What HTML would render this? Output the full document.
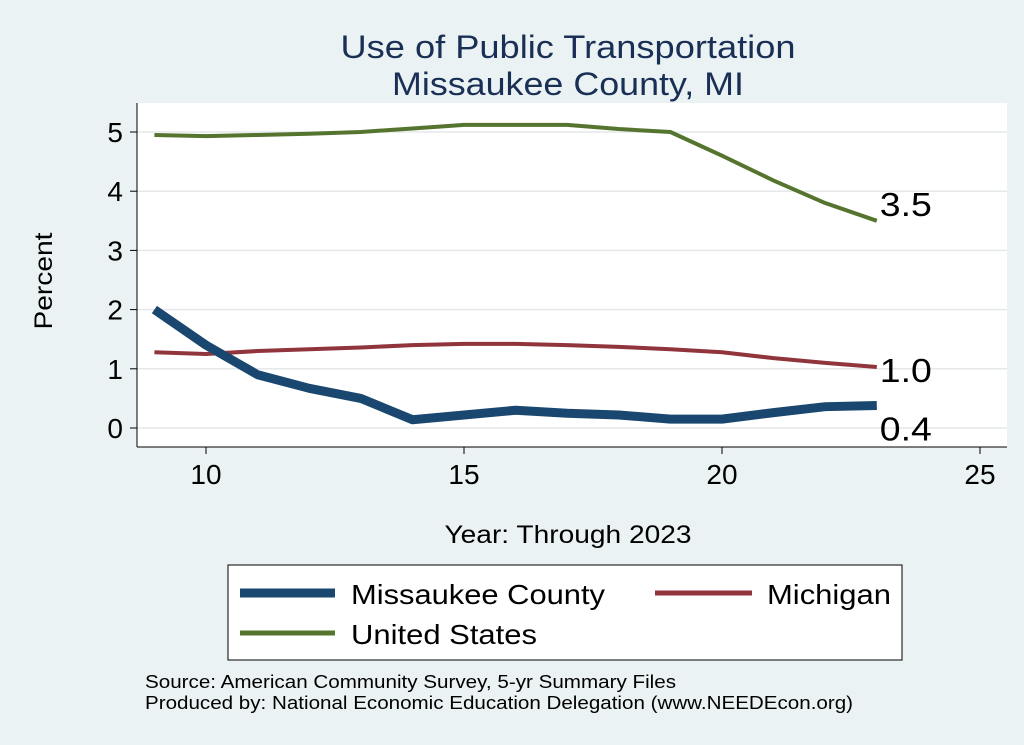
<!DOCTYPE html>
<html><head><meta charset="utf-8"><style>
body{margin:0;background:#eaf2f3;}
svg{display:block;font-family:"Liberation Sans",sans-serif;}
</style></head><body>
<svg id="chart" width="1024" height="745">
<rect x="0" y="0" width="1024" height="745" fill="#eaf2f3"/>
<text x="568" y="58" font-size="32" fill="#1a2f55" text-anchor="middle" textLength="455" lengthAdjust="spacingAndGlyphs">Use of Public Transportation</text>
<text x="568" y="95" font-size="32" fill="#1a2f55" text-anchor="middle" textLength="352" lengthAdjust="spacingAndGlyphs">Missaukee County, MI</text>
<rect x="137" y="103" width="870" height="344" fill="#fff"/>
<g id="grid"></g><g id="axes"></g><g id="series"></g>
<text x="52" y="281" font-size="25" fill="#000" text-anchor="middle" textLength="97" lengthAdjust="spacingAndGlyphs" transform="rotate(-90 52 281)">Percent</text>
<text x="568" y="543" font-size="25" fill="#000" text-anchor="middle" textLength="247" lengthAdjust="spacingAndGlyphs">Year: Through 2023</text>
<g>
<rect x="228" y="565" width="674" height="95" fill="#fff" stroke="#000" stroke-width="1"/>
<g><line x1="240" y1="593" x2="335" y2="593" stroke="#1a476f" stroke-width="9"/><text x="351" y="604" font-size="28" textLength="254" lengthAdjust="spacingAndGlyphs">Missaukee County</text></g>
<g><line x1="655" y1="593" x2="752" y2="593" stroke="#90353b" stroke-width="5"/><text x="767" y="604" font-size="28" textLength="124" lengthAdjust="spacingAndGlyphs">Michigan</text></g>
<g><line x1="240" y1="633" x2="335" y2="633" stroke="#55752f" stroke-width="5"/><text x="351" y="644" font-size="28" textLength="186" lengthAdjust="spacingAndGlyphs">United States</text></g>
</g>
<text x="145" y="688" font-size="18" textLength="531" lengthAdjust="spacingAndGlyphs">Source: American Community Survey, 5-yr Summary Files</text>
<text x="145" y="709" font-size="18" textLength="708" lengthAdjust="spacingAndGlyphs">Produced by: National Economic Education Delegation (www.NEEDEcon.org)</text>
</svg>
<script>
const years=[9,10,11,12,13,14,15,16,17,18,19,20,21,22,23];
const countyVals=[2.0,1.4,0.9,0.67,0.5,0.14,0.22,0.3,0.25,0.22,0.15,0.15,0.26,0.36,0.38];
const michiganVals=[1.28,1.25,1.3,1.33,1.36,1.4,1.42,1.42,1.4,1.37,1.33,1.28,1.18,1.1,1.03];
const usVals=[4.95,4.93,4.95,4.97,5.0,5.06,5.12,5.12,5.12,5.05,5.0,4.6,4.18,3.8,3.5];
const xTicks=[10,15,20,25];
const yTicks=[0,1,2,3,4,5];
const endLabels=["0.4","1.0","3.5"];
const NS="http://www.w3.org/2000/svg";
const X=v=>206+(v-10)*51.6;
const Y=v=>428-v*59.2;
function mk(tag,attrs,parent){const e=document.createElementNS(NS,tag);for(const k in attrs)e.setAttribute(k,attrs[k]);parent.appendChild(e);return e;}
const grid=document.getElementById('grid'),axes=document.getElementById('axes'),ser=document.getElementById('series');
yTicks.forEach(t=>{
 const g=mk('line',{x1:137,x2:1007,y1:Y(t),y2:Y(t),stroke:'#e4e8ea','stroke-width':1.5},grid);
 
 
 const tk=mk('line',{x1:130,x2:137,y1:Y(t),y2:Y(t),stroke:'#000'},axes);
 
 
 const tx=mk('text',{x:123,y:Y(t)+10,'font-size':28,'text-anchor':'end'},axes);tx.textContent=t;
 
 
});
xTicks.forEach(t=>{
 const tk=mk('line',{x1:X(t),x2:X(t),y1:447,y2:454,stroke:'#000'},axes);
 
 
 const tx=mk('text',{x:X(t),y:484,'font-size':28,'text-anchor':'middle'},axes);tx.textContent=t;
 
 
});
const ax1=mk('line',{x1:137,x2:137,y1:103,y2:447,stroke:'#000'},axes);


const ax2=mk('line',{x1:137,x2:1007,y1:447,y2:447,stroke:'#000'},axes);


function line(vals,color,w,name,label,dy){
 const p=mk('polyline',{points:vals.map((v,i)=>X(years[i])+','+Y(v)).join(' '),fill:'none',stroke:color,'stroke-width':w,'stroke-linejoin':'round'},ser);
 
 
 const lv=vals[vals.length-1],lx=X(years[years.length-1]);
 const t=mk('text',{x:lx+3,y:Y(lv)+dy,'font-size':33,textLength:52,lengthAdjust:'spacingAndGlyphs'},ser);t.textContent=label;
 
 
}
line(usVals,'#55752f',4,'us-line',endLabels[2],-5);
line(michiganVals,'#90353b',4,'michigan-line',endLabels[1],15);
line(countyVals,'#1a476f',9,'county-line',endLabels[0],35);
</script>
</body></html>
